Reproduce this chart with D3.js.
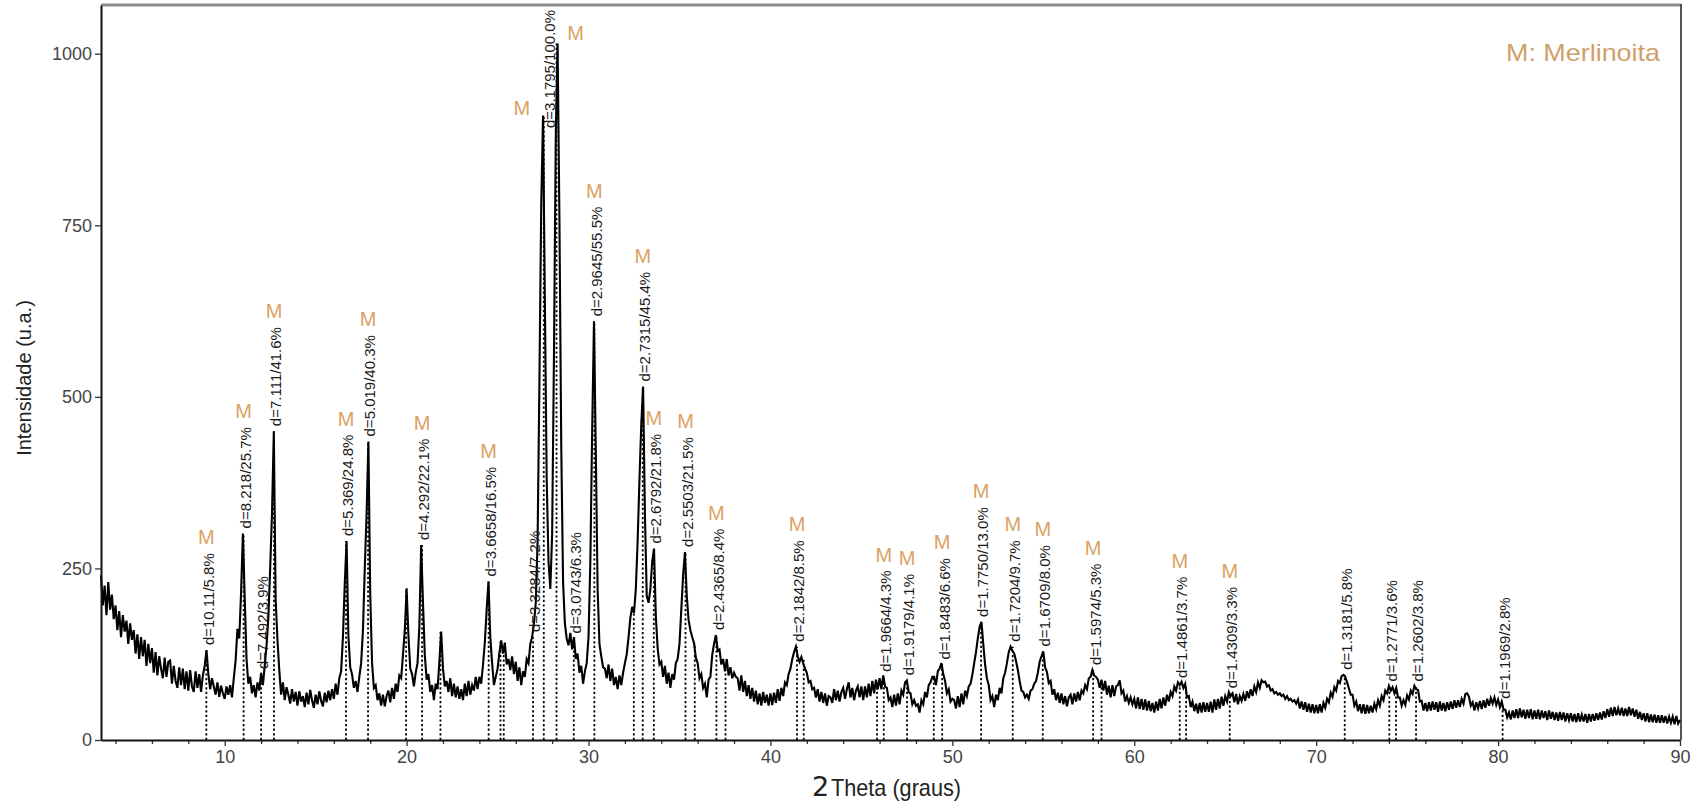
<html>
<head>
<script src='https://d3js.org/d3.v7.min.js'></script>
<style>
body {margin:0; background:#fff;}
svg {display:block;}
text {font-family:'Liberation Sans', Arial, sans-serif;}
.scan {fill:none; stroke:#000; stroke-width:2.1; stroke-linejoin:miter;}
.drop {stroke:#000; stroke-width:1.8; stroke-dasharray:2.2,2.4;}
</style>
</head>
<body>
<svg id="chart" width=1697 height=808></svg>

<script>
// XRD scan, 2theta from 3.2 to 90.0 deg, step 0.1
var startAngle = 3.2;
var stepAngle = 0.1;
var intensity = [
  240,196,225,182,230,190,212,176,                 // 3.2
  196,160,188,150,182,158,174,140,170,146,         // 4
  160,126,154,118,150,122,146,108,140,112,
  134,98,128,94,122,104,90,120,92,114,
  116,82,108,86,76,106,80,104,74,100,
  72,102,78,70,100,76,96,70,94,108,
  131,96,74,90,78,66,84,63,79,68,                  // 9
  60,78,66,80,62,90,116,162,148,214,
  301,208,118,82,92,68,80,62,84,72,
  98,80,108,138,178,250,330,450,205,146,
  102,66,84,58,77,66,53,74,56,70,
  50,71,56,64,48,69,52,73,58,47,                   // 14
  66,52,71,57,49,69,55,72,58,74,
  60,82,66,90,100,150,228,290,152,106,
  96,76,86,70,92,112,160,250,330,435,
  212,112,76,80,58,68,50,66,49,64,
  72,55,76,60,82,70,94,90,124,160,                 // 19
  221,152,104,96,78,98,112,165,284,200,
  124,88,96,70,80,58,82,74,114,158,
  104,78,86,70,90,64,82,62,78,60,
  74,58,82,64,86,66,80,72,92,74,
  92,82,110,142,190,231,150,112,80,92,             // 24
  104,127,145,126,142,110,118,102,122,96,
  114,86,106,80,100,92,118,112,140,150,
  170,200,290,520,780,910,640,380,260,220,
  300,560,880,1015,760,430,230,170,148,138,
  156,132,150,118,126,98,108,82,100,112,           // 29
  150,260,450,610,420,220,140,122,106,104,
  90,110,86,104,80,92,74,94,80,98,
  112,125,150,178,194,185,220,290,380,460,
  515,330,210,200,220,260,279,180,134,110,
  114,92,108,82,98,76,96,88,112,118,               // 34
  140,190,240,274,210,175,160,150,141,120,
  112,90,96,76,82,62,88,92,124,140,
  153,130,132,110,118,100,118,94,106,90,
  98,92,90,72,94,70,86,64,80,60,
  76,56,72,52,68,50,70,54,66,50,                   // 39
  68,51,69,54,74,57,76,64,84,80,
  96,104,118,128,136,122,114,121,112,104,
  98,84,86,74,76,62,74,56,70,54,
  68,50,64,62,54,74,58,72,56,70,
  76,60,74,84,62,76,58,72,78,62,                   // 44
  78,58,78,62,82,64,86,68,88,74,
  90,74,94,78,76,58,62,48,66,50,
  68,52,72,66,84,87,70,68,52,58,
  50,52,40,58,52,70,62,80,84,92,
  92,80,100,104,112,96,86,68,74,56,                // 49
  60,58,46,64,48,68,52,72,64,78,
  82,95,112,128,148,165,172,140,110,90,
  80,58,64,48,66,58,76,68,90,98,
  112,128,136,130,126,115,102,86,72,70,
  62,66,60,72,74,82,86,98,114,122,                 // 54
  129,106,99,83,86,66,74,58,69,54,
  68,52,64,49,62,66,52,68,56,70,
  58,72,68,80,74,90,92,102,94,92,
  88,76,88,72,86,66,79,62,80,64,
  78,80,87,68,72,56,64,54,62,52,                   // 59
  60,46,62,45,60,44,59,43,57,42,
  54,40,56,43,60,46,62,50,66,56,
  70,64,78,72,84,80,85,76,82,62,
  64,48,56,42,53,39,54,40,55,41,
  54,41,56,40,59,44,60,46,63,50,                   // 64
  64,56,70,64,68,55,67,52,64,57,
  67,57,71,61,74,64,78,70,84,76,
  87,84,85,78,80,72,74,68,70,66,
  68,64,66,60,64,58,60,56,58,53,
  59,46,56,44,55,41,53,40,52,39,                   // 69
  51,39,52,40,54,47,60,55,69,63,
  77,72,86,83,93,95,92,84,75,66,
  66,50,56,42,52,39,52,38,51,39,
  50,40,53,45,58,50,64,58,72,68,
  79,72,77,68,76,62,62,50,58,51,                   // 74
  65,59,72,67,79,74,73,56,57,43,
  54,42,55,43,56,44,55,41,56,43,
  54,42,55,44,56,45,58,47,58,48,
  60,53,67,68,63,50,55,43,55,46,
  57,45,58,47,60,50,61,53,62,51,                   // 79
  59,48,56,44,44,33,40,30,43,32,
  45,32,46,33,44,31,44,32,45,30,
  43,31,44,30,43,32,42,29,43,31,
  41,29,40,28,41,29,40,27,39,29,
  39,27,38,26,39,27,37,27,38,25,                   // 84
  38,27,38,28,39,29,40,30,42,32,
  45,34,47,35,48,36,46,36,47,35,
  46,35,48,36,46,34,44,31,41,29,
  39,27,39,26,37,26,37,25,36,25,
  36,25,35,24,34,25,34,23,35,24,                   // 89
  29
];

// identified reflections
var peakTheta = [8.99, 11.04, 12.0, 12.71, 16.67, 17.88, 19.97, 20.85, 21.86, 24.51, 25.16, 25.34,
  26.95, 27.54, 28.24, 29.19, 30.32, 32.49, 32.98, 33.59, 35.33, 35.84, 37.03, 37.53, 41.46, 41.83,
  45.86, 46.23, 47.51, 48.98, 49.44, 51.58, 53.32, 54.97, 57.74, 58.2, 62.5, 62.85, 65.25, 71.57,
  74.02, 74.39, 75.49, 80.25];
var peakHeight = [131, 301, 96, 450, 290, 435, 221, 284, 158, 231, 145, 140,
  150, 910, 1015, 148, 610, 194, 515, 279, 274, 141, 153, 107, 136, 117,
  82, 92, 87, 92, 110, 172, 136, 129, 102, 83, 83, 80, 68, 95,
  78, 73, 78, 53];
var peakLabel = ["d=10.11/5.8%", "d=8.218/25.7%", "d=7.492/3.9%", "d=7.111/41.6%", "d=5.369/24.8%",
  "d=5.019/40.3%", "", "d=4.292/22.1%", "", "d=3.6658/16.5%", "", "",
  "d=3.3284/7.2%", "", "d=3.1795/100.0%", "d=3.0743/6.3%", "d=2.9645/55.5%", "", "d=2.7315/45.4%",
  "d=2.6792/21.8%", "d=2.5503/21.5%", "", "d=2.4365/8.4%", "", "d=2.1842/8.5%", "",
  "", "d=1.9664/4.3%", "d=1.9179/4.1%", "", "d=1.8483/6.6%", "d=1.7750/13.0%", "d=1.7204/9.7%",
  "d=1.6709/8.0%", "d=1.5974/5.3%", "", "d=1.4861/3.7%", "", "d=1.4309/3.3%", "d=1.3181/5.8%",
  "d=1.2771/3.6%", "", "d=1.2602/3.8%", "d=1.1969/2.8%"];
var peakPhase = ["M","M","","M","M","M","","M","","M","","",
  "","M","M","","M","","M","M","M","","M","","M","",
  "","M","M","","M","M","M","M","M","","M","","M","",
  "","","",""];

var phaseLegend = "M: Merlinoita";
var xTicks = [10, 20, 30, 40, 50, 60, 70, 80, 90];
var yTicks = [0, 250, 500, 750, 1000];
var xTitle = ["2", "Theta (graus)"];
var yTitle = "Intensidade (u.a.)";

var orange = "#dba263";

var svg = d3.select("#chart");
var x = d3.scaleLinear().domain([3.2, 90]).range([101, 1680]);
var y = d3.scaleLinear().domain([0, 1071]).range([740, 5]);

var scan = intensity.map(function(v, i) { return [startAngle + i * stepAngle, v]; });
var peaks = peakTheta.map(function(t, i) {
  return {theta: t, height: peakHeight[i], label: peakLabel[i], phase: peakPhase[i]};
});

// frame (top and right)
svg.append("line").attr("x1", 101).attr("x2", 1681).attr("y1", 5).attr("y2", 5)
   .attr("stroke", "#8c8c8c").attr("stroke-width", 3);
svg.append("line").attr("x1", 1681).attr("x2", 1681).attr("y1", 4).attr("y2", 740)
   .attr("stroke", "#555").attr("stroke-width", 2);

// dotted drop lines
svg.append("g").selectAll("line").data(peaks).enter().append("line")
   .attr("class", "drop")
   .attr("x1", function(d) { return x(d.theta); })
   .attr("x2", function(d) { return x(d.theta); })
   .attr("y1", y(0))
   .attr("y2", function(d) { return y(d.height); });

// pattern
svg.append("path").datum(scan).attr("class", "scan")
   .attr("d", d3.line().x(function(d) { return x(d[0]); }).y(function(d) { return y(d[1]); }));

// axes
var minor = d3.range(4, 90, 2).filter(function(v) { return v % 10 != 0; });
svg.append("g").attr("transform", "translate(0,740)")
   .call(d3.axisBottom(x).tickValues(minor).tickSize(4).tickSizeOuter(0).tickFormat(""))
   .call(function(g) { g.select(".domain").remove(); });
var xa = svg.append("g").attr("transform", "translate(0,740)")
   .call(d3.axisBottom(x).tickValues(xTicks).tickSize(6).tickSizeOuter(0).tickPadding(4));
var ya = svg.append("g").attr("transform", "translate(101,0)")
   .call(d3.axisLeft(y).tickValues(yTicks).tickFormat(d3.format("d")).tickSize(6).tickSizeOuter(0).tickPadding(3));
[xa, ya].forEach(function(a) {
  a.attr("font-size", 18).attr("font-family", "'Liberation Sans', Arial, sans-serif");
  a.selectAll("text").attr("fill", "#444");
  a.select(".domain").attr("stroke", "#111").attr("stroke-width", 2);
});
svg.selectAll(".tick line").attr("stroke", "#333").attr("stroke-width", 1.3);

// titles
svg.append("text").attr("transform", "translate(31,378) rotate(-90)")
   .attr("text-anchor", "middle").attr("font-size", 20).attr("fill", "#222").text(yTitle);
var xt = svg.append("text").attr("y", 796).attr("fill", "#222");
xt.append("tspan").attr("x", 812).attr("font-size", 27).attr("font-family", "'DejaVu Sans', sans-serif").text(xTitle[0]);
xt.append("tspan").attr("x", 831).attr("font-size", 24).attr("textLength", 130)
  .attr("lengthAdjust", "spacingAndGlyphs").text(xTitle[1]);

// peak labels and phase marks
var lab = svg.append("g");
peaks.forEach(function(p) {
  var px = x(p.theta);
  if (!p.label) {
    if (p.phase) lab.append("text").attr("x", px - 22).attr("y", y(p.height))
      .attr("text-anchor", "middle").attr("font-size", 20).attr("fill", orange).text(p.phase);
    return;
  }
  var t = lab.append("text").attr("font-size", 15).attr("fill", "#1a1a1a").attr("dy", "0.36em").text(p.label);
  var len = t.node().getComputedTextLength();
  var base = y(p.height) - 5, lx = px + 2, clamped = false;
  if (base - len < 10) { base = 10 + len; lx = px - 7; clamped = true; }
  t.attr("transform", "translate(" + lx + "," + base + ") rotate(-90)");
  if (!p.phase) return;
  var m = lab.append("text").attr("text-anchor", "middle").attr("font-size", 20).attr("fill", orange).text(p.phase);
  if (clamped) m.attr("x", px + 19).attr("y", y(p.height) - 3);
  else m.attr("x", px).attr("y", base - len - 9);
});

// legend
svg.append("text").attr("x", 1506).attr("y", 61).attr("font-size", 24).attr("fill", "#cfa06c")
   .attr("textLength", 154).attr("lengthAdjust", "spacingAndGlyphs").text(phaseLegend);
</script>
</body>
</html>
